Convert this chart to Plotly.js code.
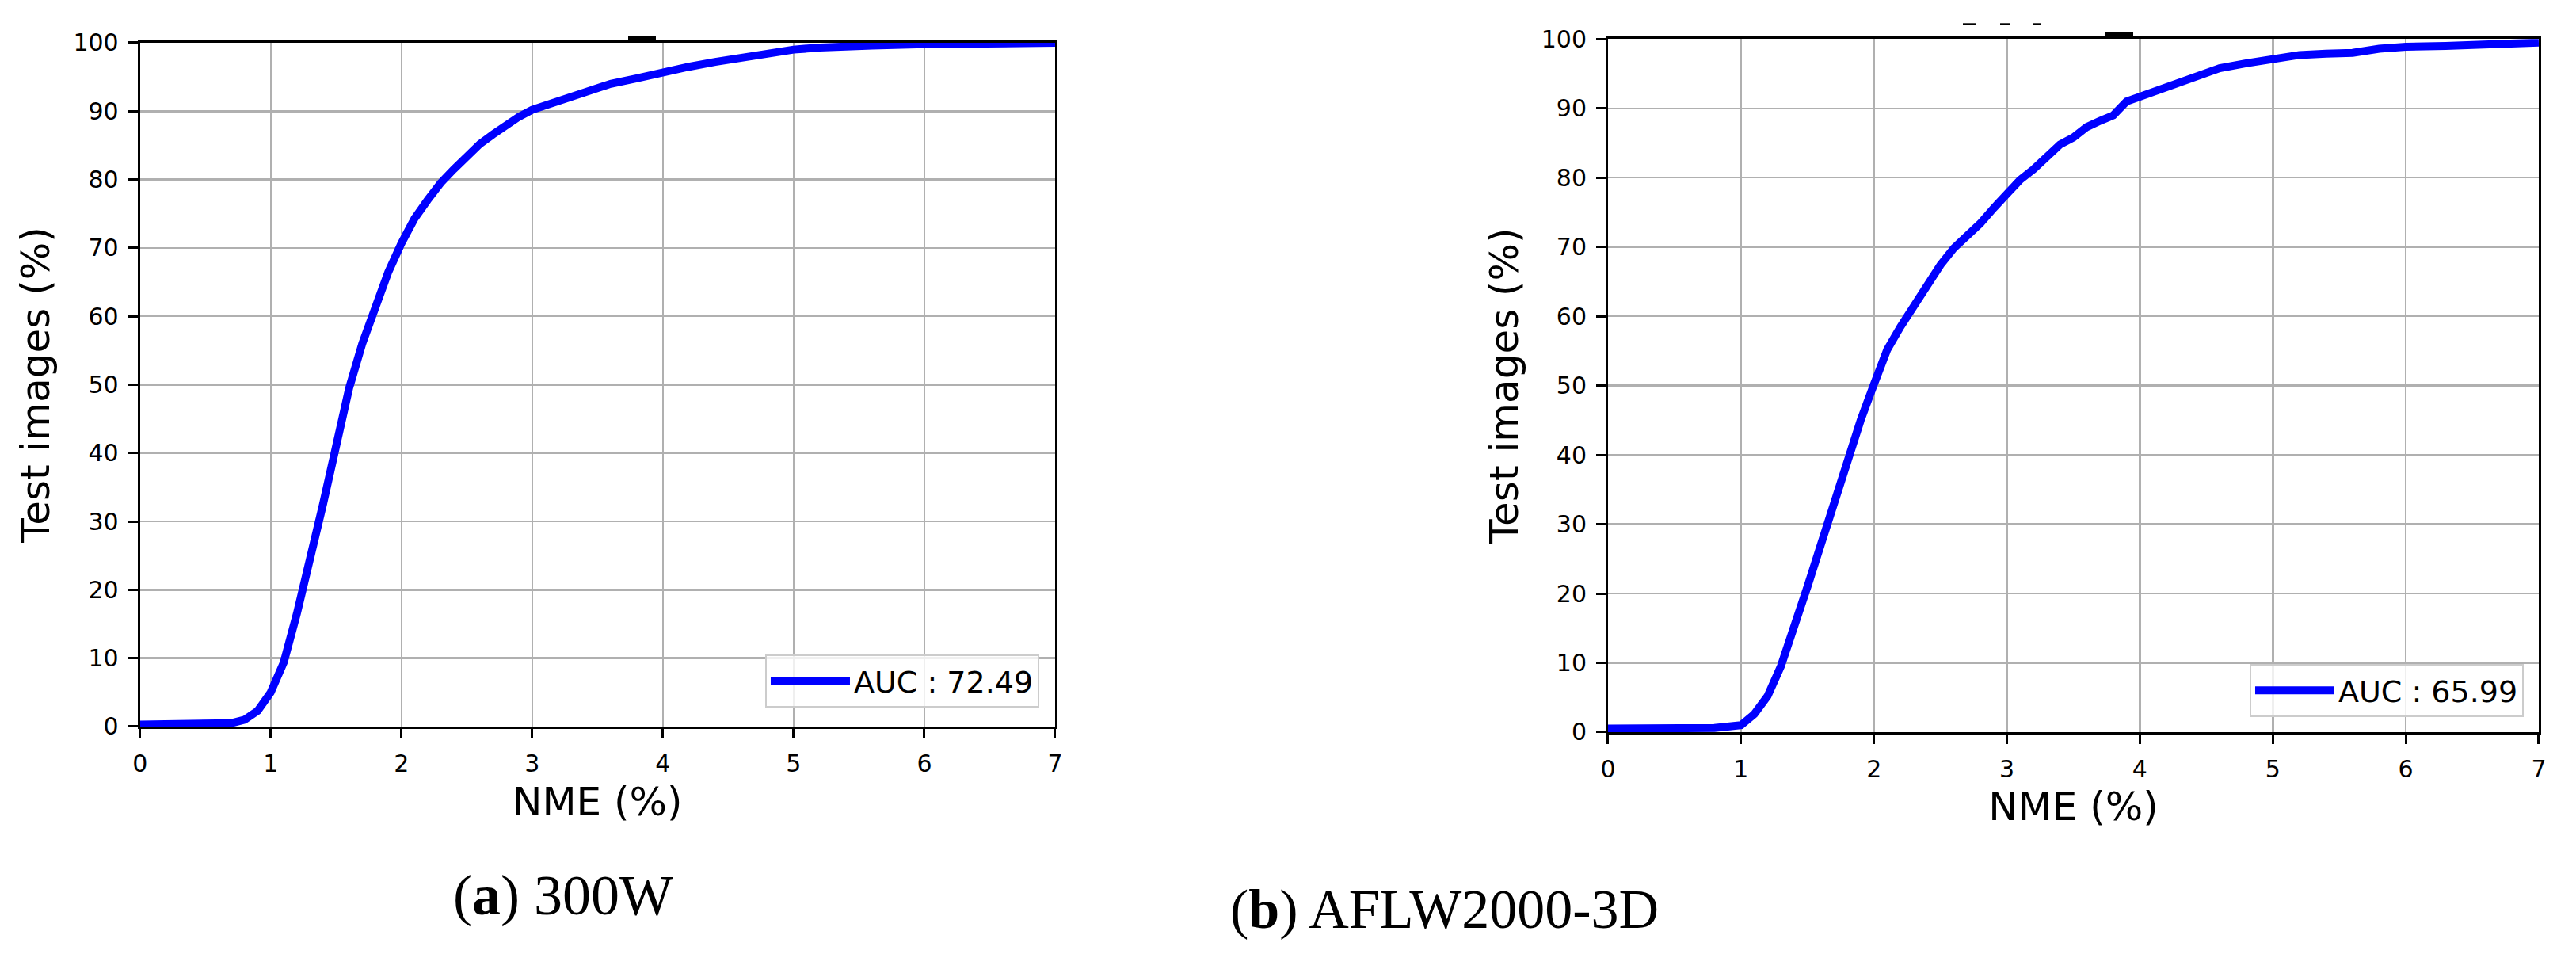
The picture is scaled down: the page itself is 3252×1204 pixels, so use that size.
<!DOCTYPE html>
<html>
<head>
<meta charset="utf-8">
<script src="https://cdn.plot.ly/plotly-3.0.1.min.js"></script>
<style>
  body { margin: 0; background: #ffffff; }
  #myPlot { width: 3252px; height: 1204px; }
</style>
</head>
<body>
<div id="myPlot"></div>
<script>
// CED curves, NME (%) vs share of test images (%)
var nme300W = [0, 0.2, 0.4, 0.6, 0.7, 0.8, 0.9, 1.0, 1.1, 1.2, 1.3, 1.4, 1.5, 1.6, 1.7, 1.8, 1.9, 2.0, 2.1, 2.2, 2.3, 2.4, 2.5, 2.6, 2.7, 2.8, 2.9, 3.0, 3.2, 3.4, 3.6, 3.8, 4.0, 4.2, 4.4, 4.6, 4.8, 5.0, 5.2, 5.4, 5.6, 6.0, 6.5, 7.0]
var ced300W = [0.3, 0.3, 0.3, 0.35, 0.5, 1.0, 2.3, 5.0, 9.4, 16.5, 24, 32.5, 41, 49.5, 56, 61.5, 66.5, 70.7, 74.3, 77, 79.5, 81.5, 83.3, 85.2, 86.6, 88, 89.2, 90.2, 91.5, 93, 94, 94.8, 95.7, 96.5, 97.2, 97.8, 98.5, 99, 99.3, 99.5, 99.6, 99.8, 99.9, 100]

var nmeAFLW = [0, 0.2, 0.4, 0.6, 0.7, 0.8, 0.9, 1.0, 1.1, 1.2, 1.3, 1.4, 1.5, 1.6, 1.7, 1.8, 1.9, 2.0, 2.1, 2.2, 2.3, 2.4, 2.5, 2.6, 2.7, 2.8, 2.9, 3.0, 3.1, 3.2, 3.3, 3.4, 3.5, 3.6, 3.7, 3.8, 3.9, 4.0, 4.2, 4.4, 4.6, 4.8, 5.0, 5.2, 5.4, 5.6, 5.8, 6.0, 6.3, 6.6, 7.0]
var cedAFLW = [0.5, 0.5, 0.5, 0.5, 0.5, 0.6, 0.8, 1.0, 2.6, 5.2, 9.5, 15, 21, 27, 33, 39.5, 45, 50.2, 55.2, 58.5, 61.5, 64.5, 67.4, 69.8, 71.6, 73.4, 75.6, 77.8, 79.7, 81.2, 83.0, 84.8, 85.8, 87.3, 88.2, 89.0, 91, 91.7, 93.3, 94.7, 95.8, 96.5, 97, 97.7, 97.9, 98.0, 98.6, 98.9, 99, 99.1, 99.5]

var legendNames = ["AUC : 72.49", "AUC : 65.99"]
var captions = ["(<b>a</b>) 300W", "(<b>b</b>) AFLW2000-3D"]
var xTicks = [0, 1, 2, 3, 4, 5, 6, 7]
var yTicks = [0, 10, 20, 30, 40, 50, 60, 70, 80, 90, 100]

var tickFont = {family: "DejaVu Sans", size: 30, color: "#000000"}
var titleFont = {family: "DejaVu Sans", size: 50, color: "#000000"}

var makeAxis = function (anchor, domain, ticks, range, title, standoff) {
    return {
        anchor: anchor,
        domain: domain,
        range: range,
        tickvals: ticks,
        ticktext: ticks.map(String),
        showgrid: true,
        gridcolor: "#b0b0b0",
        gridwidth: 2.5,
        zeroline: false,
        showline: true,
        mirror: true,
        linecolor: "#000000",
        linewidth: 3,
        ticks: "outside",
        ticklen: 12,
        tickwidth: 3,
        tickcolor: "#000000",
        ticklabelstandoff: 6,
        tickfont: tickFont,
        automargin: false,
        title: {text: title, font: titleFont, standoff: standoff}
    }
}

var makeLegend = function (x, y) {
    return {
        x: x, y: y,
        xanchor: "right", yanchor: "bottom",
        xref: "paper", yref: "paper",
        bgcolor: "rgba(255,255,255,0.8)",
        bordercolor: "#cccccc",
        borderwidth: 2,
        itemwidth: 100,
        font: {family: "DejaVu Sans", size: 38, color: "#000000"}
    }
}

var data = [{
    x: nme300W,
    y: ced300W,
    name: legendNames[0],
    mode: "lines",
    type: "scatter",
    xaxis: "x", yaxis: "y",
    legend: "legend",
    line: {color: "#0000ff", width: 10}
}, {
    x: nmeAFLW,
    y: cedAFLW,
    name: legendNames[1],
    mode: "lines",
    type: "scatter",
    xaxis: "x2", yaxis: "y2",
    legend: "legend2",
    line: {color: "#0000ff", width: 10}
}]

// the little black marks above each frame are what is left of the cropped titles
var bar = function (x0, x1, y0, y1) {
    return {type: "rect", xref: "paper", yref: "paper", x0: x0, x1: x1, y0: y0, y1: y1,
        fillcolor: "#000000", line: {width: 0}}
}

var layout = {
    width: 3252,
    height: 1204,
    margin: {l: 0, r: 0, t: 0, b: 0},
    paper_bgcolor: "#ffffff",
    plot_bgcolor: "#ffffff",
    showlegend: true,
    xaxis: makeAxis("y", [0.05434, 0.40959], xTicks, [0, 7], "NME (%)", 14),
    yaxis: makeAxis("x", [0.23837, 0.95515], yTicks, [0, 100], "Test images (%)", 14),
    xaxis2: makeAxis("y2", [0.62423, 0.98554], xTicks, [0, 7], "NME (%)", 14),
    yaxis2: makeAxis("x2", [0.23256, 0.95905], yTicks, [0, 100], "Test images (%)", 14),
    legend: makeLegend(0.40344, 0.25831),
    legend2: makeLegend(0.97970, 0.24834),
    shapes: [
        bar(0.24385, 0.25461, 0.95764, 0.96262),
        bar(0.81734, 0.82811, 0.96179, 0.96678),
        bar(0.76199, 0.76722, 0.97425, 0.97566),
        bar(0.77645, 0.78014, 0.97425, 0.97566),
        bar(0.78905, 0.79244, 0.97425, 0.97566)
    ],
    annotations: [{
        text: captions[0], xref: "paper", yref: "paper", x: 0.2186, y: 0.0615,
        xanchor: "center", yanchor: "middle", showarrow: false,
        font: {family: "Liberation Serif", size: 72, color: "#000000"}
    }, {
        text: captions[1], xref: "paper", yref: "paper", x: 0.5606, y: 0.0473,
        xanchor: "center", yanchor: "middle", showarrow: false,
        font: {family: "Liberation Serif", size: 70, color: "#000000"}
    }]
}

Plotly.newPlot("myPlot", data, layout, {staticPlot: true})
</script>
</body>
</html>
